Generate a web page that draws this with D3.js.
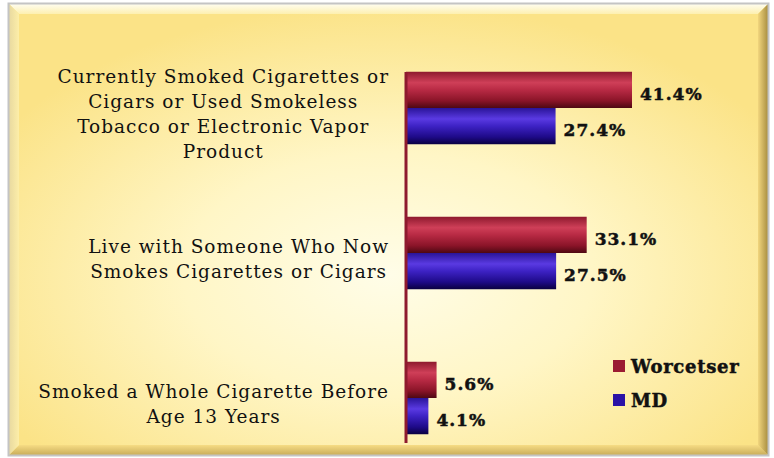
<!DOCTYPE html>
<html><head><meta charset="utf-8">
<script src="https://cdn.jsdelivr.net/npm/d3@7"></script>
<style>html,body{margin:0;padding:0;background:#fff;}svg{display:block;}</style>
</head><body>
<svg id="chart" width="774" height="458"></svg>
<script>
const categories = [
  ["Currently Smoked Cigarettes or", "Cigars or Used Smokeless", "Tobacco or Electronic Vapor", "Product"],
  ["Live with Someone Who Now", "Smokes Cigarettes or Cigars"],
  ["Smoked a Whole Cigarette Before", "Age 13 Years"]
];
const seriesNames = ["Worcetser", "MD"];
const worcester = [41.4, 33.1, 5.6];
const md = [27.4, 27.5, 4.1];
const valueLabels = [["41.4%", "33.1%", "5.6%"], ["27.4%", "27.5%", "4.1%"]];

const svg = d3.select("#chart");
const defs = svg.append("defs");

// background gradient
const bg = defs.append("radialGradient").attr("id","bg").attr("cx","0.5").attr("cy","0.6").attr("r","0.6");
bg.append("stop").attr("offset","0").attr("stop-color","#fffde8");
bg.append("stop").attr("offset","0.45").attr("stop-color","#fff6c6");
bg.append("stop").attr("offset","1").attr("stop-color","#fbe387");

function vgrad(id, stops, horiz){
  const g = defs.append("linearGradient").attr("id",id).attr("x1","0").attr("y1","0")
    .attr("x2", horiz?"1":"0").attr("y2", horiz?"0":"1");
  stops.forEach(s=>g.append("stop").attr("offset",s[0]).attr("stop-color",s[1]));
}
vgrad("gRed", [[0,"#8e1a2e"],[0.3,"#cf3f58"],[0.5,"#b82a44"],[0.8,"#8a1428"],[1,"#4e0812"]]);
vgrad("gBlue", [[0,"#2a1498"],[0.3,"#5a3ae2"],[0.5,"#3d22c4"],[0.8,"#1e0a88"],[1,"#0a0040"]]);
vgrad("bTop", [[0,"#fffdf0"],[1,"#fdf0b0"]]);
vgrad("bBot", [[0,"#f6dc84"],[1,"#c9ad5a"]]);
vgrad("bLeft", [[0,"#e8d9a0"],[1,"#fdeea8"]], true);
vgrad("bRight", [[0,"#f2d67e"],[1,"#a88e40"]], true);

// panel
const px0 = 9, py0 = 4, px1 = 768, py1 = 455, bv = 10;
svg.append("rect").attr("x",px0).attr("y",py0).attr("width",px1-px0).attr("height",py1-py0)
  .attr("fill","url(#bg)");
const poly = (pts, fill)=>svg.append("polygon").attr("points", pts.map(p=>p.join(",")).join(" ")).attr("fill",fill);
poly([[px0,py0],[px1,py0],[px1-bv,py0+bv],[px0+bv,py0+bv]], "url(#bTop)");
poly([[px0,py1],[px1,py1],[px1-bv,py1-bv],[px0+bv,py1-bv]], "url(#bBot)");
poly([[px0,py0],[px0+bv,py0+bv],[px0+bv,py1-bv],[px0,py1]], "url(#bLeft)");
poly([[px1,py0],[px1-bv,py0+bv],[px1-bv,py1-bv],[px1,py1]], "url(#bRight)");
svg.append("rect").attr("x",px0-0.5).attr("y",py0-0.5).attr("width",px1-px0+1).attr("height",py1-py0+1)
  .attr("fill","none").attr("stroke","#c4c4c4").attr("stroke-width",2);

// scales
const x = d3.scaleLinear().domain([0, 41.4]).range([406, 632]);
const y = d3.scaleBand().domain(d3.range(categories.length)).range([35.5, 470.5])
  .paddingInner(0.5).paddingOuter(0.25);
const ySub = d3.scaleBand().domain([0,1]).range([0, y.bandwidth()]);

const data = [worcester, md];
const fills = ["url(#gRed)", "url(#gBlue)"];
data.forEach((vals, si)=>{
  svg.append("g").selectAll("rect").data(vals).join("rect")
    .attr("x", x(0)).attr("y", (d,i)=>y(i)+ySub(si))
    .attr("width", d=>x(d)-x(0)).attr("height", ySub.bandwidth())
    .attr("fill", fills[si]);
  svg.append("g").selectAll("text").data(vals).join("text")
    .attr("x", d=>x(d)+8).attr("y", (d,i)=>y(i)+ySub(si)+ySub.bandwidth()/2+4)
    .attr("dominant-baseline","central")
    .attr("font-family","'DejaVu Serif', serif").attr("font-weight","bold").attr("font-size",17)
    .attr("letter-spacing",1).attr("stroke","#111").attr("stroke-width",0.5)
    .attr("fill","#111").text((d,i)=>valueLabels[si][i]);
});

// axis line
svg.append("line").attr("x1",x(0)).attr("x2",x(0)).attr("y1",72).attr("y2",443)
  .attr("stroke","#8e1a2e").attr("stroke-width",3);

// category labels
const labelRight = 389, lh = 25;
categories.forEach((lines, i)=>{
  const g = svg.append("g");
  const n = lines.length;
  const cy = y(i) + y.bandwidth()/2 + 6;
  const texts = lines.map((ln, k)=>g.append("text")
    .attr("y", cy + (k - (n-1)/2)*lh)
    .attr("dominant-baseline","central")
    .attr("font-family","'DejaVu Serif', serif").attr("font-size",18.5)
    .attr("letter-spacing",1)
    .attr("fill","#111").attr("text-anchor","middle").text(ln));
  const maxW = d3.max(texts, t=>t.node().getComputedTextLength());
  texts.forEach(t=>t.attr("x", labelRight - maxW/2));
});

// legend
const legendColors = ["#9b1b32", "#2a12a6"];
seriesNames.forEach((name, i)=>{
  const ly = 366 + i*34;
  svg.append("rect").attr("x",613).attr("y",ly-6).attr("width",12).attr("height",12).attr("fill",legendColors[i]);
  svg.append("text").attr("x",631).attr("y",ly).attr("dominant-baseline","central")
    .attr("font-family","'DejaVu Serif', serif").attr("font-weight","bold").attr("font-size",18)
    .attr("letter-spacing",0.7).attr("stroke","#111").attr("stroke-width",0.5)
    .attr("fill","#111").text(name);
});
</script>
</body></html>
